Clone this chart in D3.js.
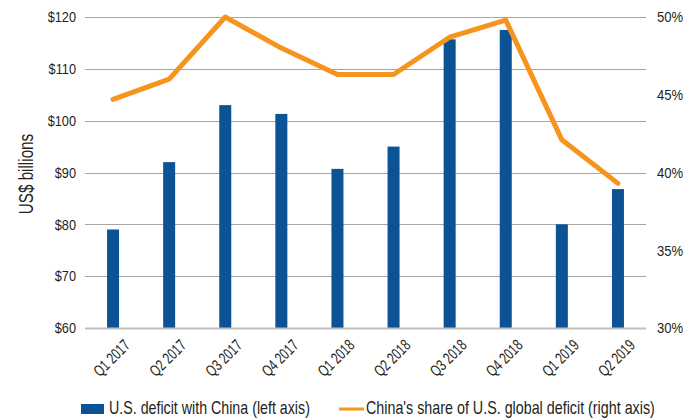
<!DOCTYPE html>
<html>
<head>
<meta charset="utf-8">
<script src="https://cdn.jsdelivr.net/npm/d3@7/dist/d3.min.js"></script>
<style>
  html, body { margin: 0; padding: 0; background: #fff; }
  svg text { font-family: "Liberation Sans", Arial, sans-serif; fill: #231f20; }
</style>
</head>
<body>
<svg id="chart" width="696" height="419"></svg>
<script>
// Quarterly U.S. goods deficit with China and China's share of the total U.S. deficit
const quarters = ["Q1 2017", "Q2 2017", "Q3 2017", "Q4 2017", "Q1 2018", "Q2 2018", "Q3 2018", "Q4 2018", "Q1 2019", "Q2 2019"];
const deficitWithChina = [79, 92, 103, 101.3, 90.7, 95, 115.7, 117.5, 80, 86.8];        // US$ billions
const chinaShare = [44.7, 46.0, 50.0, 48.0, 46.3, 46.3, 48.7, 49.8, 42.1, 39.3];        // percent
const leftTicks = [60, 70, 80, 90, 100, 110, 120];
const rightTicks = [30, 35, 40, 45, 50];
const legendLabels = ["U.S. deficit with China (left axis)", "China's share of U.S. global deficit (right axis)"];

const BLUE = "#0b5394";
const ORANGE = "#f7941d";

// squeeze text horizontally to get a condensed face
function condense(sel, k) {
  sel.each(function () {
    const w = this.getComputedTextLength();
    d3.select(this).attr("textLength", w * k).attr("lengthAdjust", "spacingAndGlyphs");
  });
}

const svg = d3.select("#chart");
const plot = { left: 85, right: 646, top: 17, bottom: 328 };

const x = d3.scaleBand().domain(quarters).range([plot.left, plot.right]).paddingInner(0.786).paddingOuter(0.393);
const xc = d => x(d) + x.bandwidth() / 2;
const yL = d3.scaleLinear().domain([60, 120]).range([plot.bottom, plot.top]);
const yR = d3.scaleLinear().domain([30, 50]).range([plot.bottom, plot.top]);

// horizontal gridlines from the left axis
svg.append("g")
  .selectAll("line")
  .data(leftTicks.slice(1))
  .join("line")
  .attr("x1", plot.left).attr("x2", plot.right)
  .attr("y1", d => Math.round(yL(d)) + 0.5).attr("y2", d => Math.round(yL(d)) + 0.5)
  .attr("stroke", "#a6a6a6").attr("stroke-width", 1.2);

// left axis labels
const leftAxis = d3.axisLeft(yL).tickValues(leftTicks).tickFormat(d => "$" + d).tickSize(0).tickPadding(9);
const gl = svg.append("g").attr("transform", `translate(${plot.left},0)`).call(leftAxis);
gl.select(".domain").remove();
gl.selectAll("text").attr("font-family", null).style("font-size", "15px").attr("fill", "#231f20").call(condense, 0.85);

// right axis labels
const rightAxis = d3.axisRight(yR).tickValues(rightTicks).tickFormat(d => d + "%").tickSize(0).tickPadding(11);
const gr = svg.append("g").attr("transform", `translate(${plot.right},0)`).call(rightAxis);
gr.select(".domain").remove();
gr.selectAll("text").attr("font-family", null).style("font-size", "15px").attr("fill", "#231f20").call(condense, 0.87);

// bars
svg.append("g")
  .selectAll("rect")
  .data(quarters)
  .join("rect")
  .attr("x", d => x(d))
  .attr("width", x.bandwidth())
  .attr("y", (d, i) => yL(deficitWithChina[i]))
  .attr("height", (d, i) => yL(60) - yL(deficitWithChina[i]))
  .attr("fill", BLUE);

// baseline
svg.append("line")
  .attr("x1", plot.left).attr("x2", plot.right)
  .attr("y1", plot.bottom + 0.5).attr("y2", plot.bottom + 0.5)
  .attr("stroke", "#bfbfbf").attr("stroke-width", 2);

// share line
const line = d3.line().x((d, i) => xc(quarters[i])).y(d => yR(d));
svg.append("path")
  .datum(chinaShare)
  .attr("d", line)
  .attr("fill", "none")
  .attr("stroke", ORANGE)
  .attr("stroke-width", 5)
  .attr("stroke-linejoin", "round")
  .attr("stroke-linecap", "round");

// category labels, rotated
svg.append("g")
  .selectAll("text")
  .data(quarters)
  .join("text")
  .attr("transform", d => `translate(${xc(d) - 1.5},${plot.bottom + 30}) rotate(-45)`)
  .attr("text-anchor", "middle")
  .attr("dy", "0.35em")
  .style("font-size", "16px")
  .text(d => d)
  .call(condense, 0.72);

// axis title
svg.append("text")
  .attr("transform", `translate(33,174) rotate(-90)`)
  .attr("text-anchor", "middle")
  .style("font-size", "20px")
  .text("US$ billions")
  .call(condense, 0.76);

// legend: text squeezed with a horizontal scale to a condensed width
function legendText(g, xPos, yPos, label, width) {
  const t = g.append("text").style("font-size", "18px").text(label);
  const k = width / t.node().getComputedTextLength();
  t.attr("transform", `translate(${xPos},${yPos}) scale(${k},1)`);
}
const leg = svg.append("g");
leg.append("rect").attr("x", 81).attr("y", 404).attr("width", 23).attr("height", 10).attr("fill", BLUE);
legendText(leg, 109, 414, legendLabels[0], 201);
leg.append("line").attr("x1", 339).attr("x2", 364).attr("y1", 409).attr("y2", 409).attr("stroke", ORANGE).attr("stroke-width", 3);
legendText(leg, 366, 414, legendLabels[1], 289);
</script>
</body>
</html>
